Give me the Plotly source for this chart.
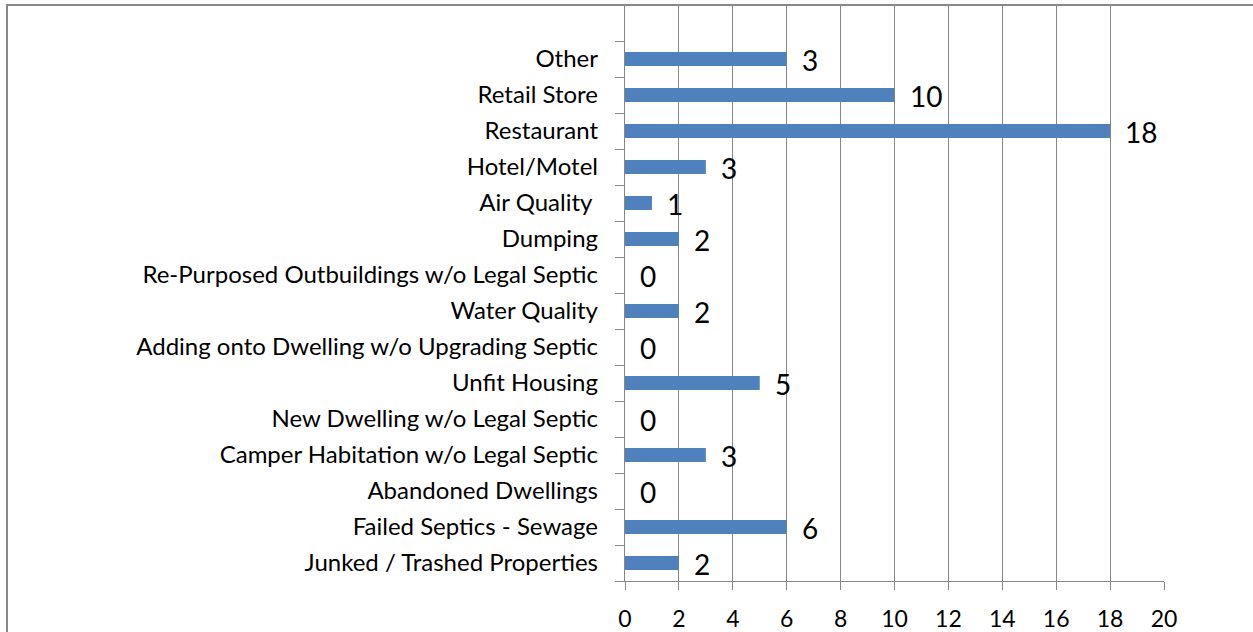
import plotly.graph_objects as go

# Categories listed bottom-to-top
categories = [
    "Junked / Trashed Properties",
    "Failed Septics - Sewage",
    "Abandoned Dwellings",
    "Camper Habitation w/o Legal Septic",
    "New Dwelling w/o Legal Septic",
    "Unfit Housing",
    "Adding onto Dwelling w/o Upgrading Septic",
    "Water Quality",
    "Re-Purposed Outbuildings w/o Legal Septic",
    "Dumping",
    "Air Quality ",
    "Hotel/Motel",
    "Restaurant",
    "Retail Store",
    "Other",
]
bar_values = [2, 6, 0, 3, 0, 5, 0, 2, 0, 2, 1, 3, 18, 10, 6]
label_values = [2, 6, 0, 3, 0, 5, 0, 2, 0, 2, 1, 3, 18, 10, 3]
x_ticks = [0, 2, 4, 6, 8, 10, 12, 14, 16, 18, 20]

FONT = "Lato"
GRAY = "#878787"

fig = go.Figure()
fig.add_trace(go.Bar(
    x=bar_values, y=categories, orientation="h",
    marker=dict(color="#4f81bd", line=dict(width=0)),
    width=0.39, hoverinfo="x+y",
))

for v, lab, c in zip(bar_values, label_values, categories):
    fig.add_annotation(
        x=v, y=c, text=str(lab), showarrow=False,
        xanchor="left", yanchor="middle", xshift=13, yshift=-1,
        font=dict(family=FONT, size=28, color="black"),
    )

fig.add_shape(
    type="rect", xref="paper", yref="paper",
    xsizemode="pixel", ysizemode="pixel",
    xanchor=0, yanchor=1,
    x0=-618, x1=800, y0=-800, y1=0,
    line=dict(color=GRAY, width=2), fillcolor="rgba(0,0,0,0)",
    layer="above",
)

fig.update_layout(
    width=1253, height=632,
    margin=dict(l=625, r=89, t=5, b=51, autoexpand=False),
    paper_bgcolor="white", plot_bgcolor="white",
    showlegend=False,
    font=dict(family=FONT, color="black"),
    xaxis=dict(
        range=[0, 20], tickvals=x_ticks, ticktext=[str(t) for t in x_ticks],
        showgrid=True, gridcolor=GRAY, gridwidth=1.4,
        showline=True, linecolor=GRAY, linewidth=1.4,
        ticks="outside", ticklen=8, tickcolor=GRAY, tickwidth=1.4,
        tickfont=dict(family=FONT, size=23, color="black"),
        ticklabelstandoff=9, automargin=False,
        zeroline=False, fixedrange=True,
    ),
    yaxis=dict(
        type="category", categoryorder="array", categoryarray=categories,
        range=[-0.5, 15.5], tickson="boundaries",
        showgrid=False, showline=True, linecolor=GRAY, linewidth=1.4,
        ticks="outside", ticklen=9, tickcolor=GRAY, tickwidth=1.4,
        tickfont=dict(family=FONT, size=24, color="black"),
        ticklabelstandoff=21, automargin=False, fixedrange=True,
    ),
)

fig.write_html(
    "out.html",
    config={"displayModeBar": False},
    post_script="document.body.style.margin='0';document.body.style.padding='0';",
)
